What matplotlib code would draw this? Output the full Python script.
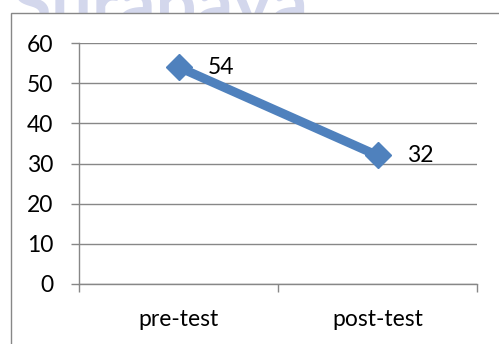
import matplotlib.pyplot as plt
from matplotlib.patches import Rectangle

# skor rata-rata sebelum dan sesudah perlakuan
categories = ['pre-test', 'post-test']
scores = [54, 32]
y_ticks = [0, 10, 20, 30, 40, 50, 60]

W, H = 499, 344
fig = plt.figure(figsize=(W / 100, H / 100), dpi=100)
plt.rcParams['font.family'] = ['Lato', 'DejaVu Sans']
FS = 16.5

# watermark di belakang kotak grafik
fig.text(308 / W, 1 - 8 / H, 'ri Surabaya', fontsize=52, color='#D3D7EC',
         ha='right', va='center', fontweight='bold', zorder=-2)

# kotak grafik
box = Rectangle((11 / W, -0.1), 1.2, 1 - 13 / H + 0.1, transform=fig.transFigure,
                facecolor='white', edgecolor='#878787', linewidth=1.0, zorder=-1)
fig.patches.append(box)

ax = fig.add_axes([79 / W, 1 - 284 / H, 398 / W, 241 / H])
ax.set_facecolor('none')

x = [0.5, 1.5]
ax.plot(x, scores, color='#4F81BD', linewidth=6.5, marker='D', markersize=13.5,
        solid_capstyle='butt', zorder=3)
for xi, s in zip(x, scores):
    ax.annotate(str(s), (xi, s), xytext=(21, 0), textcoords='offset points',
                va='center', ha='left', fontsize=FS, color='black')

ax.set_xlim(0, 2)
ax.set_ylim(0, 60)
ax.set_yticks(y_ticks)
ax.set_xticks([0, 1, 2])
ax.set_xticklabels([])
ax.set_xticks(x, minor=True)
ax.set_xticklabels(categories, minor=True)
ax.tick_params(axis='x', which='minor', length=0, pad=18, labelsize=FS)
ax.tick_params(axis='x', which='major', length=5.5, color='#878787', width=1)
ax.tick_params(axis='y', length=5.5, color='#878787', width=1, pad=13, labelsize=FS)

ax.grid(axis='y', color='#878787', linewidth=1)
for side in ['top', 'right']:
    ax.spines[side].set_visible(False)
for side in ['left', 'bottom']:
    ax.spines[side].set_color('#878787')
    ax.spines[side].set_linewidth(1)

plt.savefig('out.png', dpi=100)
